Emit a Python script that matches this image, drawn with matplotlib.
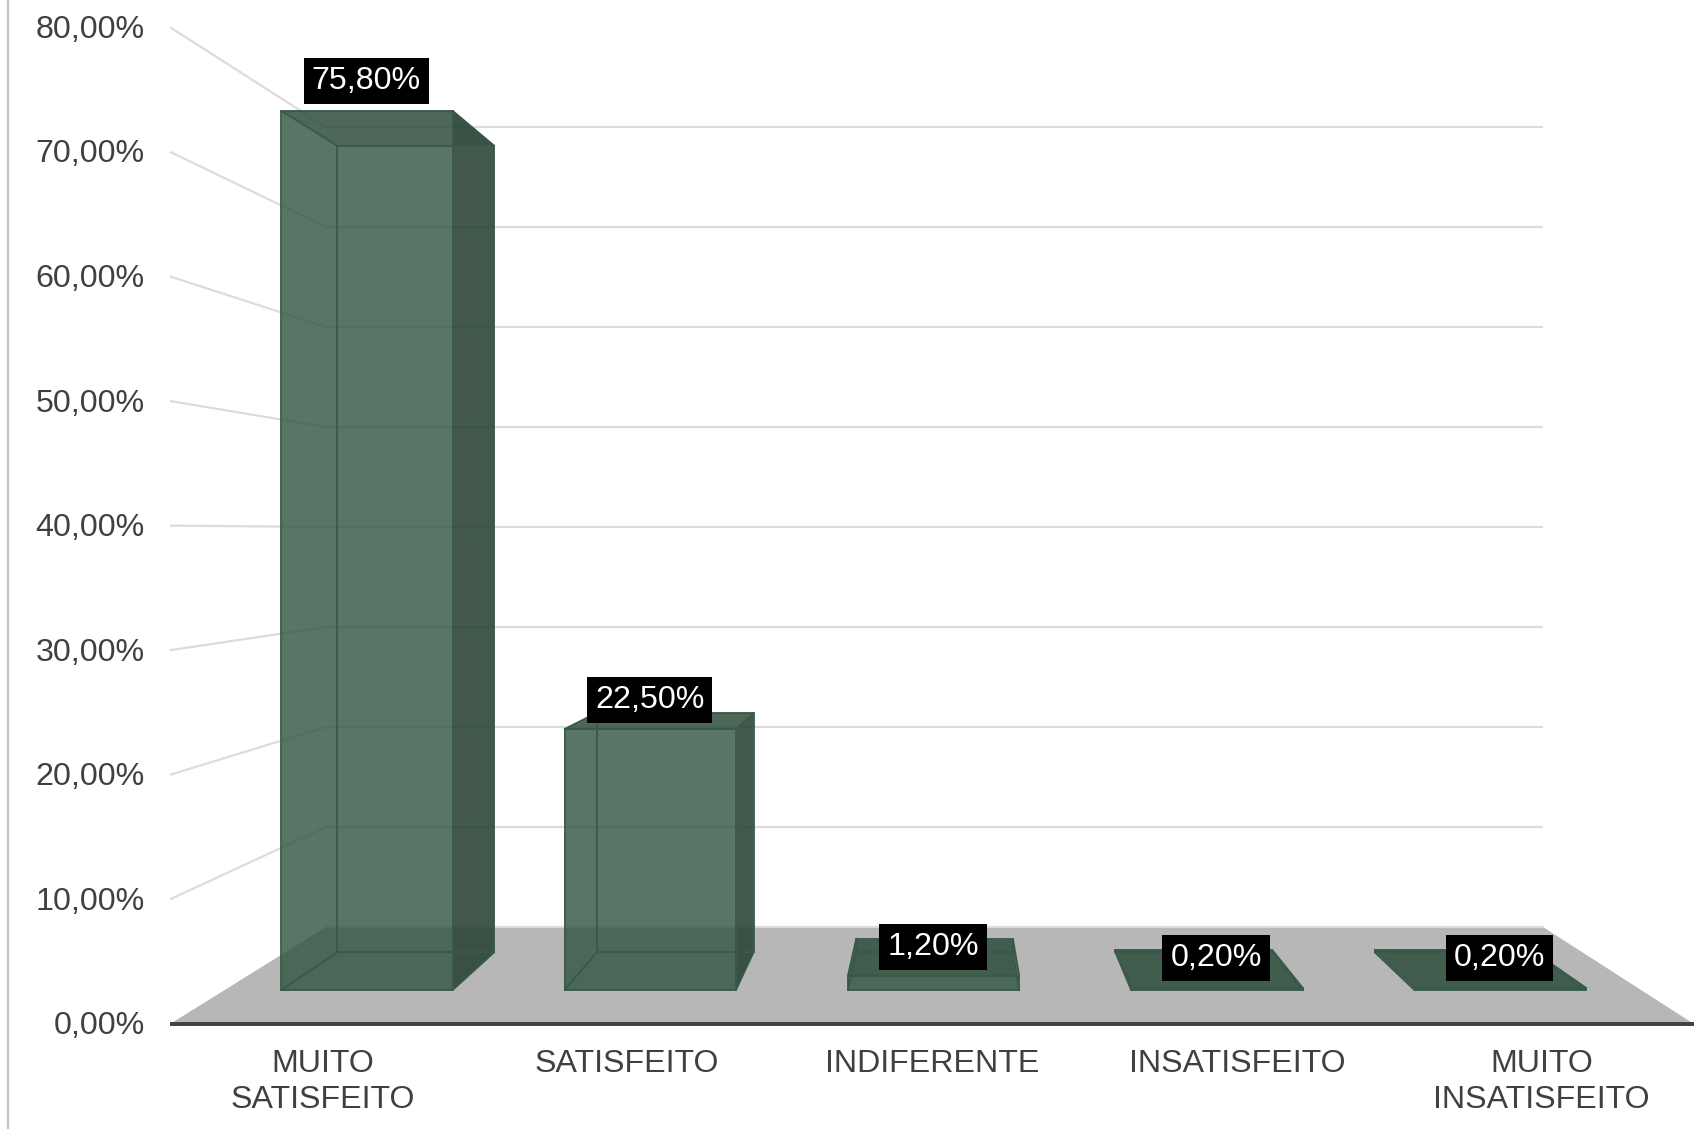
import matplotlib
matplotlib.use('Agg')
import matplotlib.pyplot as plt
from matplotlib.patches import Polygon

plt.rcParams['font.family'] = ['Liberation Sans', 'DejaVu Sans']

categories = ["MUITO\nSATISFEITO", "SATISFEITO", "INDIFERENTE", "INSATISFEITO", "MUITO\nINSATISFEITO"]
values = [75.8, 22.5, 1.2, 0.2, 0.2]
labels = ["75,80%", "22,50%", "1,20%", "0,20%", "0,20%"]
ticks = [0, 10, 20, 30, 40, 50, 60, 70, 80]
tick_labels = ["0,00%", "10,00%", "20,00%", "30,00%", "40,00%", "50,00%", "60,00%", "70,00%", "80,00%"]

W, H = 1698, 1129
FRONT_D, BACK_D = 0.35, 0.74   # depth of the bar faces, 0 = axis, 1 = wall
BAR_L, BAR_R = 0.2, 0.805


# fake 3d: u = category position, v = percent, d = depth
def proj(u, v, d):
    left = 170 + d * 156
    right = 1694 - d * 151
    x = left + (right - left) * u / len(categories)
    y = 1024 - d * 97 - v * (12.46 - d * 2.46)
    return x, y


fig = plt.figure(figsize=(W / 100, H / 100), dpi=100)
ax = fig.add_axes([0, 0, 1, 1])
ax.set_xlim(0, W)
ax.set_ylim(H, 0)
ax.axis('off')

# left border line
ax.plot([8, 8], [0, H], color='#c4c4c4', lw=1.6, zorder=1)

n = len(categories)
GRID = '#dcdcdc'

# floor
ax.add_patch(Polygon([proj(0, 0, 0), proj(n, 0, 0), proj(n, 0, 1), proj(0, 0, 1)],
                     fc='#b7b7b7', ec='none', zorder=2))

# gridlines, side wall and back wall
for t in ticks[1:]:
    p0, p1, p2 = proj(0, t, 0), proj(0, t, 1), proj(n, t, 1)
    ax.plot([p0[0], p1[0], p2[0]], [p0[1], p1[1], p2[1]], color=GRID, lw=1.6, zorder=2,
            solid_capstyle='butt')
p1, p2 = proj(0, 0, 1), proj(n, 0, 1)
ax.plot([p1[0], p2[0]], [p1[1], p2[1]], color=GRID, lw=1.6, zorder=2)

# axis line
p0, p1 = proj(0, 0, 0), proj(n, 0, 0)
ax.plot([p0[0], p1[0]], [p0[1], p1[1]], color='#404040', lw=2.8, zorder=3, solid_capstyle='butt')

for t, lab in zip(ticks, tick_labels):
    ax.text(145, proj(0, t, 0)[1] - 1, lab, ha='right', va='center_baseline', fontsize=23.2, color='#404040')

for i, cat in enumerate(categories):
    ax.text(proj(i + 0.5, 0, 0)[0], 1049, cat, ha='center', va='top', fontsize=23.1,
            color='#404040', linespacing=1.26)

# bars
EDGE = '#38594a'
for i, v in enumerate(values):
    fbl = proj(i + BAR_L, 0, FRONT_D)
    fbr = proj(i + BAR_R, 0, FRONT_D)
    ftl = proj(i + BAR_L, v, FRONT_D)
    ftr = proj(i + BAR_R, v, FRONT_D)
    bbl = proj(i + BAR_L, 0, BACK_D)
    bbr = proj(i + BAR_R, 0, BACK_D)
    btl = proj(i + BAR_L, v, BACK_D)
    btr = proj(i + BAR_R, v, BACK_D)

    if ftl[1] < btl[1]:
        body = [ftl, ftr, btr, bbr, fbr, fbl]
    else:
        body = [btl, btr, bbr, fbr, fbl, ftl]
    ax.add_patch(Polygon(body, fc='#2f5340', alpha=0.8, ec='none', zorder=4))
    # right side, darker
    ax.add_patch(Polygon([ftr, btr, bbr, fbr], fc='#1e2d23', alpha=0.38, ec='none', zorder=5))
    # top face
    ax.add_patch(Polygon([ftl, ftr, btr, btl], fc='#1e3728', alpha=0.2, ec='none', zorder=5))

    for a, b in [(ftl, ftr), (btl, btr), (ftl, btl), (ftr, btr), (btl, bbl), (btr, bbr),
                 (bbl, bbr), (fbl, bbl), (fbr, bbr), (ftl, fbl), (fbl, fbr), (ftr, fbr)]:
        ax.plot([a[0], b[0]], [a[1], b[1]], color=EDGE, lw=1.3, zorder=6, solid_capstyle='round')

# data labels
for i, (v, lab) in enumerate(zip(values, labels)):
    x, y = proj(i + 0.5, v, FRONT_D)
    ax.text(x, y - 33, lab, ha='center', va='center_baseline', fontsize=23.2, color='white', zorder=8,
            bbox=dict(boxstyle='square,pad=0.25', fc='black', ec='none'))

plt.savefig('out.png', dpi=100)
plt.close()
